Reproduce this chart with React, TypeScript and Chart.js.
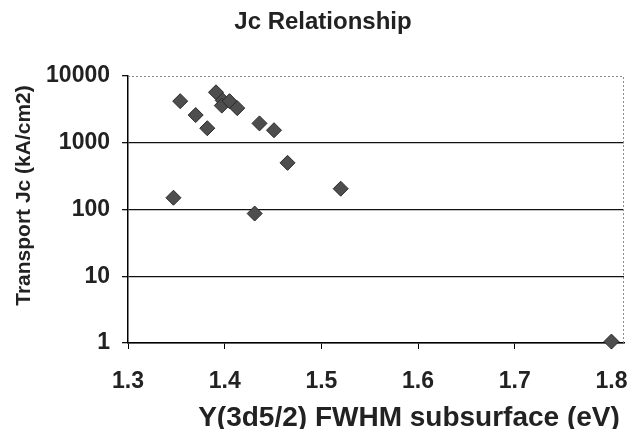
import React, { useEffect, useRef } from "react";
import { Chart, registerables } from "chart.js";

Chart.register(...registerables);

const titleText = "Jc Relationship";
const xTitle = "Y(3d5/2) FWHM subsurface (eV)";
const yTitle = "Transport Jc (kA/cm2)";

const fwhm = [1.347, 1.354, 1.370, 1.382, 1.391, 1.398, 1.397, 1.405, 1.413, 1.431, 1.436, 1.451, 1.465, 1.52, 1.8];
const jc = [150, 4200, 2600, 1650, 5700, 4300, 3600, 4200, 3300, 87, 1950, 1540, 500, 205, 1.05];
const yTicks = [1, 10, 100, 1000, 10000];

const FONT = "'Liberation Sans', Arial, sans-serif";

const frame = {
  id: "frame",
  afterDraw(chart: any) {
    const { ctx, chartArea: a } = chart;
    ctx.save();
    ctx.strokeStyle = "#8a8a8a";
    ctx.lineWidth = 1;
    ctx.setLineDash([2, 2]);
    ctx.beginPath();
    ctx.moveTo(a.left, a.top + 0.5);
    ctx.lineTo(a.right - 0.5, a.top + 0.5);
    ctx.lineTo(a.right - 0.5, a.bottom);
    ctx.stroke();
    ctx.setLineDash([]);
    ctx.fillStyle = "#222";
    ctx.textAlign = "center";
    ctx.textBaseline = "middle";
    // chart title
    ctx.font = `bold 24px ${FONT}`;
    ctx.fillText(titleText, (a.left + a.right) / 2 - 53, a.top - 54);
    // x axis title
    ctx.font = `bold 28px ${FONT}`;
    ctx.fillText(xTitle, (a.left + a.right) / 2 + 33, a.bottom + 75);
    // y axis title
    ctx.font = `bold 21px ${FONT}`;
    ctx.translate(a.left - 104, (a.top + a.bottom) / 2 - 14);
    ctx.rotate(-Math.PI / 2);
    ctx.fillText(yTitle, 0, 0);
    ctx.restore();
  },
};

export default function App() {
  const ref = useRef<HTMLCanvasElement>(null);
  useEffect(() => {
    const chart = new Chart(ref.current!, {
      type: "scatter",
      data: {
        datasets: [
          {
            data: fwhm.map((x, i) => ({ x, y: jc[i] })),
            pointStyle: "rectRot",
            pointRadius: 7.5,
            backgroundColor: "#4e4e4e",
            borderColor: "#2a2a2a",
            borderWidth: 1,
            clip: false as any,
          },
        ],
      },
      options: {
        animation: false,
        responsive: false,
        layout: { padding: { left: 0, right: 10, top: 76, bottom: 0 } },
        plugins: {
          legend: { display: false },
          tooltip: { enabled: false },
          title: { display: false },
        },
        scales: {
          x: {
            type: "linear",
            min: 1.3,
            max: 1.813,
            afterFit: (s: any) => {
              s.height = 86;
              s.paddingLeft = 0;
              s.paddingRight = 0;
            },
            ticks: {
              stepSize: 0.1,
              includeBounds: false,
              color: "#222",
              padding: 19,
              font: { family: FONT, size: 23, weight: "bold" },
              callback: (v: any) => Number(v).toFixed(1),
            },
            grid: {
              drawOnChartArea: false,
              drawTicks: true,
              tickLength: 6,
              color: "#000",
            },
            border: { display: true, color: "#000", width: 1.5 },
            title: { display: false },
          },
          y: {
            type: "logarithmic",
            min: 1,
            max: 10000,
            afterFit: (s: any) => {
              s.width = 128;
              s.paddingTop = 0;
              s.paddingBottom = 0;
            },
            afterBuildTicks: (s: any) => {
              s.ticks = yTicks.map((v) => ({ value: v }));
            },
            ticks: {
              color: "#222",
              padding: 12,
              font: { family: FONT, size: 23, weight: "bold" },
              callback: (v: any) => String(v),
            },
            grid: {
              color: (c: any) => (c.tick && c.tick.value === 10000 ? "rgba(0,0,0,0)" : "#111"),
              tickColor: "#111",
              lineWidth: 1.3,
              tickLength: 6,
            },
            border: { display: true, color: "#000", width: 1.5 },
            title: { display: false },
          },
        },
      },
      plugins: [frame],
    });
    return () => chart.destroy();
  }, []);
  return (
    <div style={{ position: "fixed", left: 0, top: 0, width: 634, height: 429, background: "#fff" }}>
      <canvas ref={ref} width={634} height={429} />
    </div>
  );
}
